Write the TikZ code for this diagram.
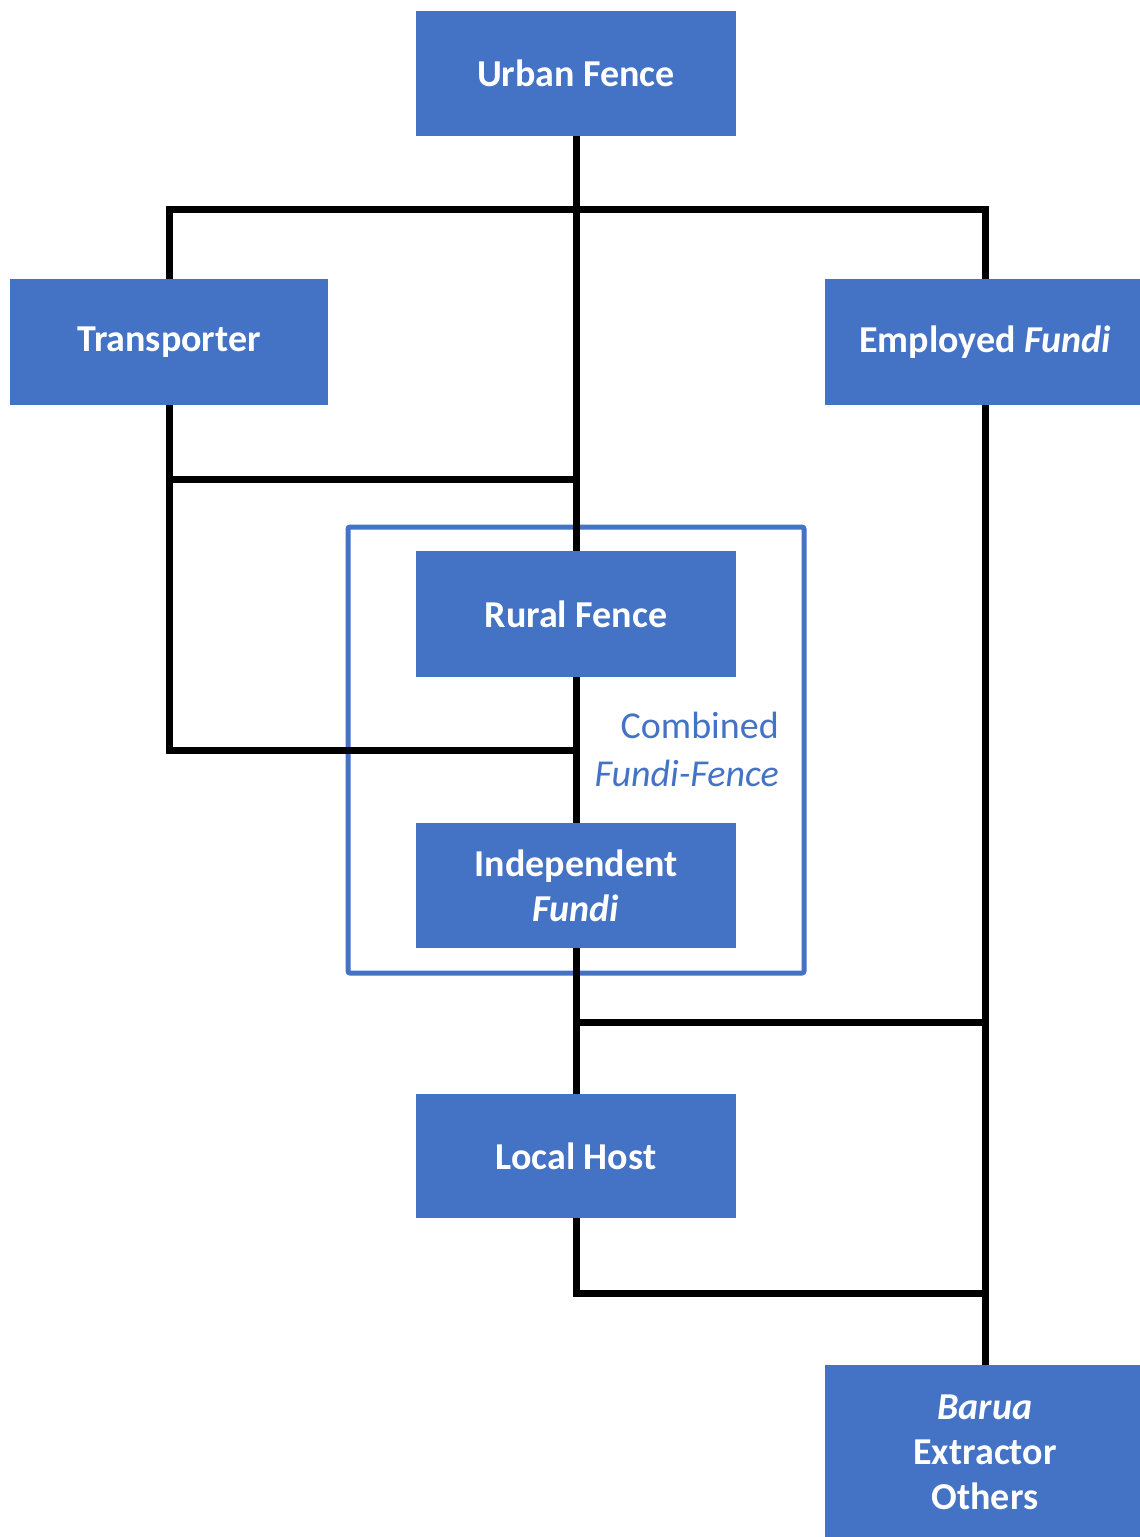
\documentclass[tikz,border=0pt]{standalone}
\usepackage{fontspec}
\setmainfont{Carlito}
\definecolor{boxblue}{HTML}{4472C4}
\begin{document}
\begin{tikzpicture}[x=1pt,y=-1pt,
  unit/.style={rectangle, fill=boxblue, draw=none, text=white,
    minimum width=320pt, minimum height=125pt, inner sep=0pt, align=center,
    font=\fontsize{38pt}{45pt}\selectfont\bfseries},
  link/.style={draw=black, line width=7pt, line join=miter},
]
\useasboundingbox (0,0) rectangle (1140,1537);

% group frame around the combined fundi-fence
\node[draw=boxblue, line width=5pt, rounded corners=2pt,
      minimum width=456pt, minimum height=446pt, inner sep=0pt] (group) at (576,750) {};

% organisations
\node[unit] (urban) at (576,73) {Urban Fence};
\node[unit, minimum width=318pt, minimum height=126pt] (transporter) at (169,342) {Transporter};
\node[unit, minimum height=126pt] (employed) at (985,342) {Employed \textit{Fundi}};
\node[unit, minimum height=126pt] (rural) at (576,614) {Rural Fence};
\node[unit] (indep) at (576,885.5) {Independent\\\textit{Fundi}};
\node[unit, minimum height=124pt] (local) at (576,1156) {Local Host};
\node[unit, minimum height=174pt] (barua) at (985,1452) {\textit{Barua}\\Extractor\\Others};

\node[anchor=east, align=right, text=boxblue, inner sep=0pt,
      font=\fontsize{38pt}{48pt}\selectfont] (label) at (779,749)
      {Combined\\\textit{Fundi-Fence}};

% junction points
\coordinate (jtop) at (576,209);
\coordinate (jmidA) at (576,479);
\coordinate (jmidB) at (576,750);
\coordinate (jlowA) at (985,1022);
\coordinate (jlowB) at (985,1293);

% connectors
\draw[link] (urban.south) -- (rural.north);
\draw[link] (transporter.north) |- (jtop) -| (employed.north);
\draw[link] (transporter.south) |- (jmidB);
\draw[link] (transporter.south |- jmidA) -- (jmidA);
\draw[link] (rural.south) -- (indep.north);
\draw[link] (indep.south) -- (local.north);
\draw[link] (indep.south |- jlowA) -- (jlowA);
\draw[link] (employed.south) -- (barua.north);
\draw[link] (local.south) |- (jlowB);
\end{tikzpicture}
\end{document}
